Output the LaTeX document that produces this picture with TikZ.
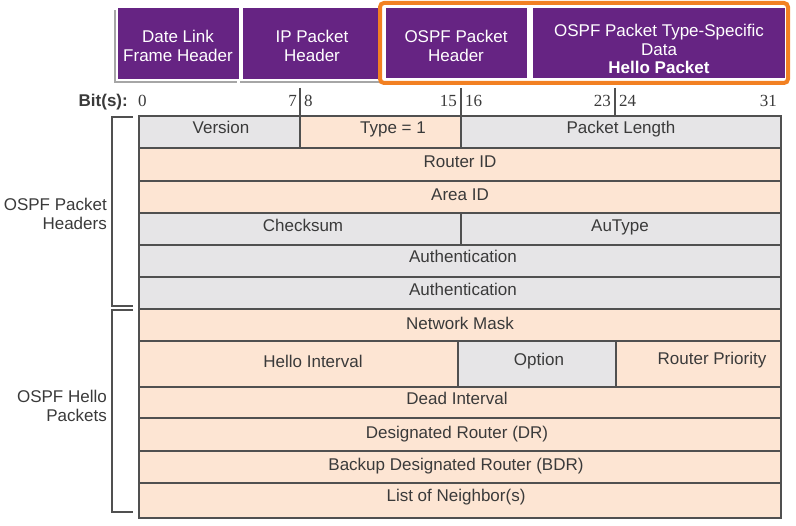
\documentclass[tikz,border=0pt]{standalone}
\usepackage{fontspec}
\setmainfont{Liberation Sans}
\newfontfamily\numfont{Liberation Serif}
\begin{document}
\definecolor{ciscopurple}{RGB}{102,36,131}
\definecolor{hiorange}{RGB}{242,128,34}
\definecolor{peach}{RGB}{253,229,211}
\definecolor{lightgrey}{RGB}{230,229,231}
\definecolor{rule}{RGB}{80,80,80}
\definecolor{ink}{RGB}{58,58,58}
\begin{tikzpicture}[x=1pt,y=-1pt,
  txt/.style={font=\fontsize{17}{18.5}\selectfont, text=ink, inner sep=0pt, anchor=base},
  bits/.style={font=\numfont\fontsize{17}{18}\selectfont, text=ink, inner sep=0pt, anchor=base},
  peachcell/.style={fill=peach, draw=rule, line width=2.4pt},
  greycell/.style={fill=lightgrey, draw=rule, line width=2.4pt},
  hdrbox/.style={fill=ciscopurple, draw=white, line width=1.2pt},
  hdrtext/.style={font=\fontsize{17}{18.5}\selectfont, text=white, align=center, inner sep=0pt},
  shadow/.style={fill=black!35, draw=none},
  bracket/.style={draw=rule, line width=1.6pt},
  tick/.style={draw=rule, line width=1.8pt}]
\useasboundingbox (0,0) rectangle (796,526);

% --- encapsulation header boxes ---
\fill[shadow] (114,10) rectangle (237,83);
\fill[shadow] (240,10) rectangle (381,83);
\path[hdrbox] (117,7) rectangle (240,80);
\path[hdrbox] (242,7) rectangle (383,80);
\path[hdrbox] (385,7) rectangle (528,79);
\path[hdrbox] (532,7) rectangle (786,79);
\draw[hiorange, line width=4pt, rounded corners=4pt] (380,3) rectangle (788,83);

\node[hdrtext] (dl) at (178,46) {Date Link\\Frame Header};
\node[hdrtext] (ip) at (312,46) {IP Packet\\Header};
\node[hdrtext] (oh) at (456,46) {OSPF Packet\\Header};
\node[hdrtext] (od) at (659,49) {OSPF Packet Type-Specific\\Data\\\textbf{Hello Packet}};

% --- bit scale ---
\node[txt, anchor=base east, font=\bfseries\fontsize{17}{18}\selectfont] (bitlbl) at (128,107) {Bit(s):};
\node[bits, anchor=base west] (b0) at (138,107) {0};
\node[bits, anchor=base east] (b7) at (297,107) {7};
\node[bits, anchor=base west] (b8) at (304,107) {8};
\node[bits, anchor=base east] (b15) at (457,107) {15};
\node[bits, anchor=base west] (b16) at (465,107) {16};
\node[bits, anchor=base east] (b23) at (611,107) {23};
\node[bits, anchor=base west] (b24) at (619,107) {24};
\node[bits, anchor=base east] (b31) at (777,107) {31};
\coordinate (t1a) at (300,88); \coordinate (t1b) at (300,116);
\coordinate (t2a) at (461,88); \coordinate (t2b) at (461,116);
\coordinate (t3a) at (615,88); \coordinate (t3b) at (615,116);
\draw[tick] (t1a) -- (t1b);
\draw[tick] (t2a) -- (t2b);
\draw[tick] (t3a) -- (t3b);

% --- OSPF header fields ---
\path[greycell]  (139,116) rectangle (300,148);
\path[peachcell] (300,116) rectangle (461,148);
\path[greycell]  (461,116) rectangle (781,148);
\path[peachcell] (139,148) rectangle (781,181);
\path[peachcell] (139,181) rectangle (781,213);
\path[greycell]  (139,213) rectangle (461,245);
\path[greycell]  (461,213) rectangle (781,245);
\path[greycell]  (139,245) rectangle (781,277);
\path[greycell]  (139,277) rectangle (781,309);
% --- Hello packet fields ---
\path[peachcell] (139,309) rectangle (781,341);
\path[peachcell] (139,341) rectangle (458,387);
\path[greycell]  (458,341) rectangle (616,387);
\path[peachcell] (616,341) rectangle (781,387);
\path[peachcell] (139,387) rectangle (781,418);
\path[peachcell] (139,418) rectangle (781,451);
\path[peachcell] (139,451) rectangle (781,483);
\path[peachcell] (139,483) rectangle (781,518);

\node[txt] (ver)  at (221,134) {Version};
\node[txt] (typ)  at (393,134) {Type = 1};
\node[txt] (plen) at (621,134) {Packet Length};
\node[txt] (rid)  at (460,168) {Router ID};
\node[txt] (aid)  at (460,201) {Area ID};
\node[txt] (chk)  at (303,232) {Checksum};
\node[txt] (aut)  at (620,232) {AuType};
\node[txt] (au1)  at (463,263) {Authentication};
\node[txt] (au2)  at (463,296) {Authentication};
\node[txt] (nm)   at (460,330) {Network Mask};
\node[txt] (hi)   at (313,368) {Hello Interval};
\node[txt] (opt)  at (539,366) {Option};
\node[txt] (rp)   at (712,365) {Router Priority};
\node[txt] (di)   at (457,405) {Dead Interval};
\node[txt] (dr)   at (457,439) {Designated Router (DR)};
\node[txt] (bdr)  at (456,471) {Backup Designated Router (BDR)};
\node[txt] (nbr)  at (456,502) {List of Neighbor(s)};

% --- group brackets ---
\coordinate (g1a) at (133,117); \coordinate (g1b) at (112,117);
\coordinate (g1c) at (112,306); \coordinate (g1d) at (133,306);
\coordinate (g2a) at (133,310); \coordinate (g2b) at (112,310);
\coordinate (g2c) at (112,512); \coordinate (g2d) at (133,512);
\draw[bracket] (g1a) -- (g1b) -- (g1c) -- (g1d);
\draw[bracket] (g2a) -- (g2b) -- (g2c) -- (g2d);
\node[txt, anchor=east, align=right] (hdrs) at (107,214) {OSPF Packet\\Headers};
\node[txt, anchor=east, align=right] (hello) at (107,406) {OSPF Hello\\Packets};
\end{tikzpicture}
\end{document}
